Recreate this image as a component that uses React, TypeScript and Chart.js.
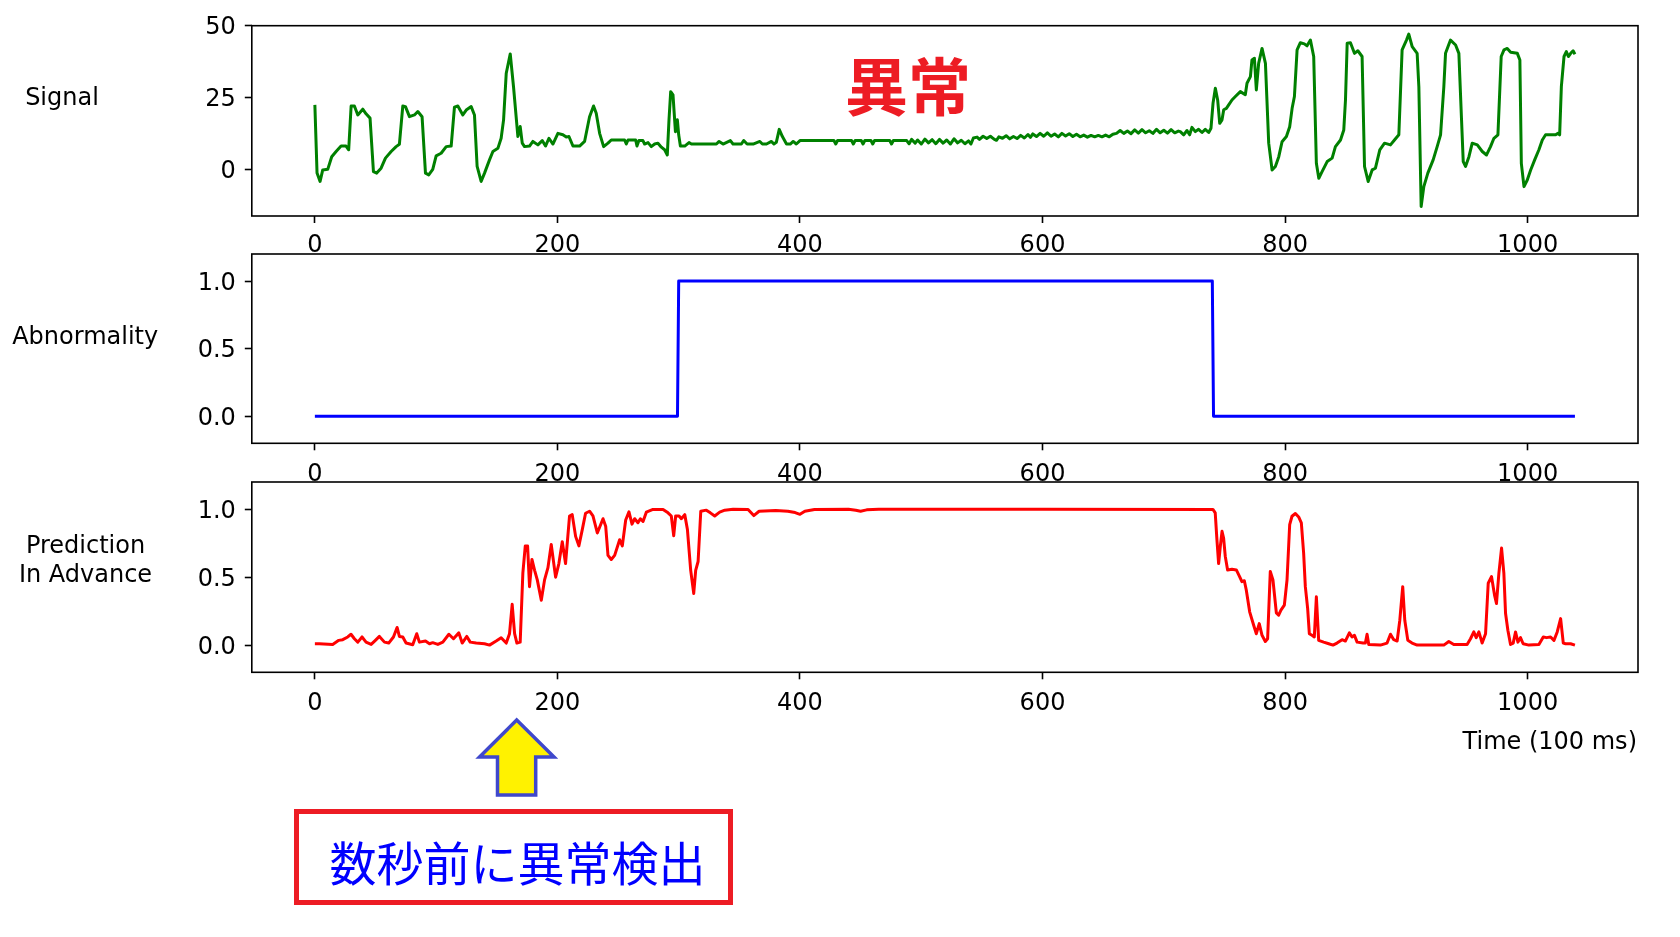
import React, { useEffect, useRef } from "react";
import { Chart, registerables } from "chart.js";

Chart.register(...registerables);

// ---------- tick labels ----------
const xTickValues = [0, 200, 400, 600, 800, 1000];
const signalTickValues = [0, 25, 50];
const unitTickValues = [0, 0.5, 1.0];

// ---------- Signal (green) ----------
const signalX = [
  0, 1.8, 4.3, 6.5, 10.6, 13.9, 17.5, 21.6, 25.7, 27.9, 29.9, 32.6, 35.4, 39.5, 42.2, 45.5, 48.3, 51.0, 54.6, 58.2,
  62.9, 67.0, 69.7, 72.5, 74.7, 78.0, 82.1, 84.9, 88.4, 91.2, 93.9, 97.2, 100.0, 104.1, 108.3, 112.4, 115.1, 117.9, 122.0, 124.8,
  128.9, 131.6, 133.8, 137.1, 139.9, 144.0, 146.8, 150.9, 153.6, 155.6, 157.8, 161.1, 163.8, 167.4, 169.3, 171.0, 172.9, 177.0, 179.8, 183.9,
  187.5, 190.2, 193.0, 196.3, 200.4, 204.5, 207.3, 209.5, 212.8, 218.3, 222.4, 226.5, 229.8, 232.0, 234.8, 238.1, 241.7, 244.4, 255.4, 256.8,
  258.2, 264.5, 265.6, 267.2, 270.5, 271.9, 274.7, 277.4, 280.2, 282.9, 285.7, 288.4, 290.6, 292.0, 293.4, 295.3, 297.3, 298.9, 300.0, 301.4,
  305.0, 308.5, 310.5, 331.1, 333.3, 336.6, 342.6, 344.8, 351.7, 353.6, 356.4, 361.4, 366.9, 369.0, 372.4, 376.5, 378.5, 380.5, 382.9, 385.5,
  388.9, 392.0, 394.4, 397.0, 400.0, 428, 429.5, 431, 442.5, 444, 445.5, 450.5, 452, 453.5, 458.5, 460, 461.5, 474, 475.5, 477,
  488, 490, 492, 495, 497, 500, 503, 506, 509, 512, 515, 518, 521, 524, 527, 530, 533, 536, 539, 541,
  543, 546, 548, 551, 554, 557, 560, 562, 564, 567, 570, 573, 576, 579, 582, 585, 588, 590, 592, 595,
  598, 601, 604, 607, 610, 613, 616, 619, 622, 625, 628, 631, 634, 637, 640, 643, 646, 649, 652, 655,
  658, 661, 664, 667, 670, 673, 676, 679, 682, 685, 688, 691, 694, 697, 700, 703, 706, 709, 712, 713.6,
  716.4, 719.1, 721.3, 723.2, 726.0, 728.7, 731.5, 734.2, 737.0, 738.9, 740.6, 742.5, 744.4, 746.1, 748.0, 749.4, 751.6, 753.5, 756.2, 759.0,
  763.1, 767.2, 768.6, 771.4, 772.7, 774.7, 776.3, 778.2, 781.0, 783.8, 786.5, 789.3, 792.0, 794.8, 797.5, 801.1, 803.8, 805.8, 807.7, 809.9,
  812.6, 815.9, 818.1, 820.9, 823.6, 825.8, 827.8, 830.5, 834.7, 838.8, 841.5, 845.7, 848.4, 849.8, 851.2, 853.9, 857.2, 860.0, 863.5, 865.5,
  868.5, 871.8, 874.5, 878.1, 882.0, 886.9, 890.2, 893.8, 896.5, 900.1, 902.0, 904.8, 908.9, 910.3, 912.2, 914.4, 917.7, 922.1, 925.4, 928.2,
  930.9, 932.3, 936.4, 940.6, 943.3, 945.5, 946.9, 948.8, 951.6, 954.3, 958.5, 962.6, 966.1, 969.4, 972.2, 975.5, 978.2, 980.5, 983.2, 986.0,
  991.5, 993.6, 994.8, 997.0, 999.7, 1002.5, 1005.8, 1009.3, 1012.1, 1014.8, 1023.1, 1025.0, 1026.4, 1027.8, 1030.0, 1031.9, 1033.6, 1035.5, 1037.5, 1039
];
const signalY = [
  22.5, -1.2, -4.1, -0.1, 0.1, 4.5, 6.3, 8.2, 8.2, 6.9, 22.1, 22.1, 19.0, 21.0, 19.4, 17.9, -0.7, -1.2, 0.5, 4.0,
  6.3, 8.0, 8.8, 22.1, 21.9, 18.4, 19.0, 20.2, 18.4, -1.2, -1.8, 0.1, 4.8, 5.7, 8.0, 8.2, 21.7, 22.1, 19.0, 20.7,
  21.9, 19.0, 1.1, -4.1, -1.2, 3.4, 6.3, 7.4, 10.9, 17.3, 33.5, 40.2, 28.8, 11.5, 15.0, 9.2, 8.0, 8.2, 9.8, 8.6,
  10.1, 8.2, 10.9, 8.9, 12.6, 12.1, 11.3, 11.5, 8.2, 8.2, 9.8, 18.4, 22.1, 19.6, 12.6, 8.0, 9.2, 10.3, 10.3, 8.9,
  10.3, 10.3, 8.2, 10.1, 10.1, 8.9, 9.4, 8.0, 8.9, 9.2, 7.8, 6.9, 5.1, 17.3, 27.1, 26.0, 13.2, 17.3, 12.1, 8.2,
  8.2, 9.4, 8.9, 8.9, 9.8, 8.9, 10.1, 8.9, 8.9, 10.1, 8.9, 8.9, 9.8, 8.9, 8.9, 9.8, 8.9, 9.5, 14.0, 11.5,
  8.9, 8.9, 9.8, 8.9, 10.1, 10.1, 8.9, 10.1, 10.1, 8.9, 10.1, 10.1, 8.9, 10.1, 10.1, 8.9, 10.1, 10.1, 8.9, 10.1,
  10.1, 9.0, 10.5, 9.2, 10.3, 8.9, 10.6, 9.3, 10.4, 9.0, 10.5, 9.2, 10.3, 8.9, 10.7, 9.3, 10.2, 9.0, 10.0, 8.9,
  11.0, 11.3, 10.5, 11.6, 10.8, 11.6, 10.6, 10.2, 11.4, 10.9, 11.8, 10.7, 11.5, 10.8, 11.9, 11.0, 12.2, 11.2, 12.4, 11.5,
  12.6, 11.6, 12.8, 11.6, 12.4, 11.4, 12.6, 11.7, 12.5, 11.5, 12.3, 11.4, 12.0, 11.3, 11.9, 11.4, 11.9, 11.4, 12.0, 11.4,
  12.3, 12.6, 13.6, 12.6, 13.4, 12.5, 13.8, 12.7, 13.9, 12.8, 13.5, 12.6, 14.0, 12.8, 13.7, 12.7, 13.9, 12.8, 13.4, 13.2,
  12.1, 13.6, 12.1, 14.7, 13.2, 14.0, 12.9, 14.0, 12.9, 14.4, 23.1, 28.3, 24.2, 16.1, 17.3, 20.8, 21.3, 22.5, 24.2, 25.4,
  27.1, 26.0, 30.0, 32.3, 38.1, 38.7, 27.7, 36.9, 42.1, 36.9, 9.2, -0.1, 1.1, 4.5, 9.7, 11.5, 14.9, 21.3, 25.4, 41.6,
  44.1, 43.7, 43.0, 45.0, 39.3, 2.2, -3.0, -0.7, 2.8, 4.0, 8.0, 10.3, 13.8, 24.2, 43.9, 44.1, 40.4, 41.3, 39.3, 1.1,
  -4.1, -0.1, 0.5, 6.9, 9.2, 8.6, 10.3, 12.1, 41.6, 45.0, 47.1, 42.7, 40.4, 28.8, -12.8, -5.9, -1.2, 3.4, 8.0, 12.1,
  28.8, 40.4, 45.0, 43.3, 40.4, 17.3, 2.8, 1.1, 4.5, 9.2, 8.6, 6.3, 5.1, 8.0, 10.9, 12.1, 39.3, 41.6, 42.1, 40.8,
  40.4, 38.1, 2.2, -5.9, -3.6, -0.1, 3.4, 6.9, 10.3, 12.1, 12.1, 12.6, 12.1, 28.8, 39.3, 41.0, 39.3, 40.4, 41.3, 40.1
];

// ---------- Abnormality (blue) ----------
const abnormalityX = [0, 299, 300, 740, 741, 1039];
const abnormalityY = [0, 0, 1, 1, 0, 0];

// ---------- Prediction in advance (red) ----------
const predictionX = [
  0, 3.7, 14.7, 19.7, 23.0, 27.1, 29.8, 32.6, 35.4, 38.9, 42.2, 46.4, 49.9, 53.2, 57.4, 60.9, 64.8, 67.8, 69.7, 72.5,
  75.2, 80.7, 84.0, 86.2, 91.2, 94.5, 97.2, 101.4, 105.5, 110.5, 114.3, 118.7, 121.5, 125.3, 128.1, 133.0, 139.9, 144.0, 149.5, 153.6,
  157.8, 160.5, 162.7, 164.7, 166.6, 169.3, 171.5, 173.5, 175.4, 177.0, 179.0, 181.2, 183.4, 186.7, 189.4, 192.2, 194.9, 198.5, 201.2, 204.0,
  206.7, 210.0, 212.2, 215.0, 217.7, 220.5, 223.2, 226.5, 229.3, 232.9, 237.6, 239.8, 241.7, 244.4, 247.2, 251.3, 253.5, 256.3, 259.0, 261.5,
  263.7, 266.4, 268.4, 270.6, 273.3, 278.8, 287.1, 291.2, 293.9, 295.9, 297.5, 300.3, 302.2, 305.0, 307.2, 309.9, 312.4, 314.0, 316.0, 318.2,
  322.8, 326.1, 329.7, 333.8, 338.0, 344.8, 357.2, 361.9, 366.3, 380, 390, 396, 400, 404, 412, 440, 446, 450, 455, 465,
  600, 740.5, 742.4, 743.8, 745.2, 746.6, 748.0, 749.3, 750.7, 752.6, 756.2, 759.8, 762.5, 764.4, 766.4, 768.0, 770.8, 774.1, 776.3, 778.7,
  781.0, 783.7, 785.6, 787.8, 790.0, 792.8, 794.7, 796.6, 799.4, 801.6, 803.8, 805.7, 808.5, 811.2, 813.4, 815.3, 816.7, 818.6, 820.0, 822.2,
  824.1, 825.8, 827.7, 831.8, 836.0, 839.5, 842.8, 847.0, 849.7, 853.0, 855.2, 857.2, 859.4, 864.3, 866.2, 867.6, 869.0, 878.6, 884.1, 886.9,
  889.6, 892.4, 894.6, 897.0, 898.7, 901.2, 904.7, 908.9, 930.9, 935.0, 939.1, 950.1, 952.9, 955.6, 957.6, 959.8, 962.5, 965.3, 967.5, 970.2,
  972.7, 974.3, 976.3, 978.5, 980.4, 981.8, 983.7, 985.9, 988.1, 990.0, 992.0, 994.1, 996.3, 1001.0, 1009.3, 1012.9, 1015.6, 1018.9, 1021.7, 1024.4,
  1027.2, 1029.4, 1031.3, 1035.4, 1039
];
const predictionY = [
  0.01, 0.01, 0.005, 0.035, 0.04, 0.06, 0.08, 0.047, 0.022, 0.06, 0.022, 0.005, 0.035, 0.064, 0.022, 0.015, 0.06, 0.13, 0.064, 0.06,
  0.015, 0.003, 0.084, 0.022, 0.03, 0.01, 0.018, 0.005, 0.022, 0.08, 0.047, 0.09, 0.015, 0.064, 0.022, 0.015, 0.01, 0.0, 0.03, 0.054,
  0.015, 0.084, 0.30, 0.084, 0.015, 0.022, 0.53, 0.73, 0.73, 0.43, 0.63, 0.55, 0.48, 0.33, 0.48, 0.57, 0.74, 0.50, 0.60, 0.76,
  0.60, 0.95, 0.96, 0.80, 0.73, 0.85, 0.97, 0.985, 0.95, 0.825, 0.93, 0.875, 0.66, 0.63, 0.66, 0.775, 0.73, 0.92, 0.98, 0.89,
  0.93, 0.90, 0.93, 0.91, 0.978, 0.998, 0.998, 0.973, 0.95, 0.805, 0.95, 0.95, 0.93, 0.96, 0.85, 0.55, 0.38, 0.55, 0.615, 0.985,
  0.993, 0.973, 0.95, 0.978, 0.993, 1.0, 0.998, 0.953, 0.985, 0.99, 0.985, 0.975, 0.962, 0.985, 0.997, 1.0, 0.992, 0.985, 0.995, 1.0,
  1.0, 0.998, 0.973, 0.776, 0.60, 0.726, 0.837, 0.788, 0.652, 0.553, 0.558, 0.553, 0.504, 0.467, 0.474, 0.405, 0.245, 0.146, 0.084, 0.158,
  0.072, 0.027, 0.047, 0.541, 0.479, 0.237, 0.22, 0.257, 0.294, 0.479, 0.887, 0.948, 0.968, 0.943, 0.899, 0.677, 0.43, 0.27, 0.084, 0.072,
  0.06, 0.356, 0.035, 0.022, 0.01, 0.0, 0.015, 0.04, 0.03, 0.09, 0.06, 0.072, 0.022, 0.015, 0.015, 0.08, 0.005, 0.0, 0.015, 0.08,
  0.04, 0.03, 0.183, 0.43, 0.183, 0.035, 0.015, 0.0, 0.0, 0.027, 0.005, 0.005, 0.047, 0.097, 0.055, 0.097, 0.015, 0.084, 0.455, 0.504,
  0.368, 0.306, 0.529, 0.714, 0.529, 0.232, 0.109, 0.005, 0.015, 0.097, 0.022, 0.055, 0.01, 0.0, 0.005, 0.06, 0.055, 0.06, 0.035, 0.097,
  0.195, 0.015, 0.01, 0.01, 0.0
];

const FONT = '"DejaVu Sans", sans-serif';
const CJK = '"Noto Sans CJK JP", "Noto Sans CJK SC", sans-serif';
const FS = 24;

const framePlugin = {
  id: "frame",
  afterDraw(chart: any) {
    const { ctx, chartArea: a } = chart;
    ctx.save();
    ctx.strokeStyle = "#000";
    ctx.lineWidth = 1.6;
    ctx.strokeRect(a.left, a.top, a.right - a.left, a.bottom - a.top);
    ctx.restore();
  },
};

type Cfg = {
  xs: number[];
  ys: number[];
  color: string;
  yMin: number;
  yMax: number;
  yTicks: number[];
  fmt: (v: number) => string;
  padTop: number;
  axisH: number;
  xPad: number;
};

function makeChart(canvas: HTMLCanvasElement, c: Cfg) {
  const tickFont = { family: FONT, size: FS };
  const grid = {
    drawOnChartArea: false,
    drawTicks: true,
    tickLength: 7,
    tickWidth: 1.6,
    tickColor: "#000",
    color: "#000",
  };
  return new Chart(canvas, {
    type: "line",
    data: {
      datasets: [
        {
          data: c.xs.map((x, i) => ({ x, y: c.ys[i] })),
          borderColor: c.color,
          borderWidth: 3,
          pointRadius: 0,
          tension: 0,
          fill: false,
          borderJoinStyle: "round",
        } as any,
      ],
    },
    options: {
      animation: false,
      responsive: false,
      maintainAspectRatio: false,
      events: [],
      layout: { padding: { top: c.padTop, left: 0, right: 42, bottom: 0 } },
      plugins: { legend: { display: false }, tooltip: { enabled: false } },
      scales: {
        x: {
          type: "linear",
          min: -52,
          max: 1091,
          afterFit: (s: any) => {
            s.height = c.axisH;
          },
          afterBuildTicks: (s: any) => {
            s.ticks = xTickValues.map((v) => ({ value: v }));
          },
          grid,
          border: { display: false },
          ticks: {
            color: "#000",
            font: tickFont,
            padding: c.xPad,
            maxRotation: 0,
            autoSkip: false,
            callback: (v: any) => String(v),
          },
        },
        y: {
          type: "linear",
          min: c.yMin,
          max: c.yMax,
          afterFit: (s: any) => {
            s.width = 251.8;
          },
          afterBuildTicks: (s: any) => {
            s.ticks = c.yTicks.map((v) => ({ value: v }));
          },
          grid,
          border: { display: false },
          ticks: {
            color: "#000",
            font: tickFont,
            padding: 9,
            labelOffset: 2.5,
            autoSkip: false,
            callback: (v: any) => c.fmt(Number(v)),
          },
        },
      },
    } as any,
    plugins: [framePlugin],
  });
}

export default function App() {
  const r1 = useRef<HTMLCanvasElement>(null);
  const r2 = useRef<HTMLCanvasElement>(null);
  const r3 = useRef<HTMLCanvasElement>(null);

  useEffect(() => {
    const charts = [
      makeChart(r1.current!, {
        xs: signalX,
        ys: signalY,
        color: "#008000",
        yMin: -16.1,
        yMax: 50,
        yTicks: signalTickValues,
        fmt: (v) => String(v),
        padTop: 25.7,
        axisH: 64,
        xPad: 8,
      }),
      makeChart(r2.current!, {
        xs: abnormalityX,
        ys: abnormalityY,
        color: "#0000ff",
        yMin: -0.2,
        yMax: 1.2,
        yTicks: unitTickValues,
        fmt: (v) => v.toFixed(1),
        padTop: 30,
        axisH: 60.7,
        xPad: 10,
      }),
      makeChart(r3.current!, {
        xs: predictionX,
        ys: predictionY,
        color: "#ff0000",
        yMin: -0.2,
        yMax: 1.2,
        yTicks: unitTickValues,
        fmt: (v) => v.toFixed(1),
        padTop: 30,
        axisH: 59.7,
        xPad: 10,
      }),
    ];
    return () => charts.forEach((ch) => ch.destroy());
  }, []);

  const lbl: React.CSSProperties = {
    position: "absolute",
    fontFamily: FONT,
    fontSize: FS,
    lineHeight: FS + "px",
    whiteSpace: "nowrap",
    color: "#000",
  };

  return (
    <div
      style={{
        position: "absolute",
        left: 0,
        top: 0,
        width: 1680,
        height: 937,
        background: "#fff",
        overflow: "hidden",
      }}
    >
      <canvas ref={r1} width={1680} height={280} style={{ position: "absolute", left: 0, top: 0 }} />
      <canvas ref={r2} width={1680} height={280} style={{ position: "absolute", left: 0, top: 224 }} />
      <canvas ref={r3} width={1680} height={280} style={{ position: "absolute", left: 0, top: 452 }} />

      <div style={{ ...lbl, left: 62, top: 85.2, transform: "translateX(-50%)" }}>Signal</div>
      <div style={{ ...lbl, left: 85.2, top: 323.7, transform: "translateX(-50%)" }}>Abnormality</div>
      <div
        style={{
          ...lbl,
          left: 85.5,
          top: 530.8,
          lineHeight: "28.8px",
          textAlign: "center",
          transform: "translateX(-50%)",
        }}
      >
        Prediction
        <br />
        In Advance
      </div>
      <div style={{ ...lbl, right: 43, top: 728.5 }}>Time (100 ms)</div>

      <div
        style={{
          position: "absolute",
          left: 908,
          top: 50.7,
          transform: "translateX(-50%)",
          fontFamily: CJK,
          fontWeight: 700,
          fontSize: 63,
          lineHeight: "63px",
          color: "#ed1c24",
          whiteSpace: "nowrap",
        }}
      >
        異常
      </div>

      <svg
        width={1680}
        height={937}
        style={{ position: "absolute", left: 0, top: 0, pointerEvents: "none" }}
      >
        <polygon
          points="516.7,720 554,757 535.7,757 535.7,795 497.5,795 497.5,757 479.5,757"
          fill="#fff200"
          stroke="#3f48cc"
          strokeWidth={3.5}
          strokeLinejoin="miter"
        />
      </svg>

      <div
        style={{
          position: "absolute",
          left: 294.3,
          top: 809,
          width: 438.4,
          height: 96,
          border: "5.5px solid #ed1c24",
          boxSizing: "border-box",
        }}
      />
      <div
        style={{
          position: "absolute",
          left: 517.5,
          top: 837,
          transform: "translateX(-50%)",
          fontFamily: CJK,
          fontSize: 47,
          lineHeight: "47px",
          color: "#0000ff",
          whiteSpace: "nowrap",
        }}
      >
        数秒前に異常検出
      </div>
    </div>
  );
}
